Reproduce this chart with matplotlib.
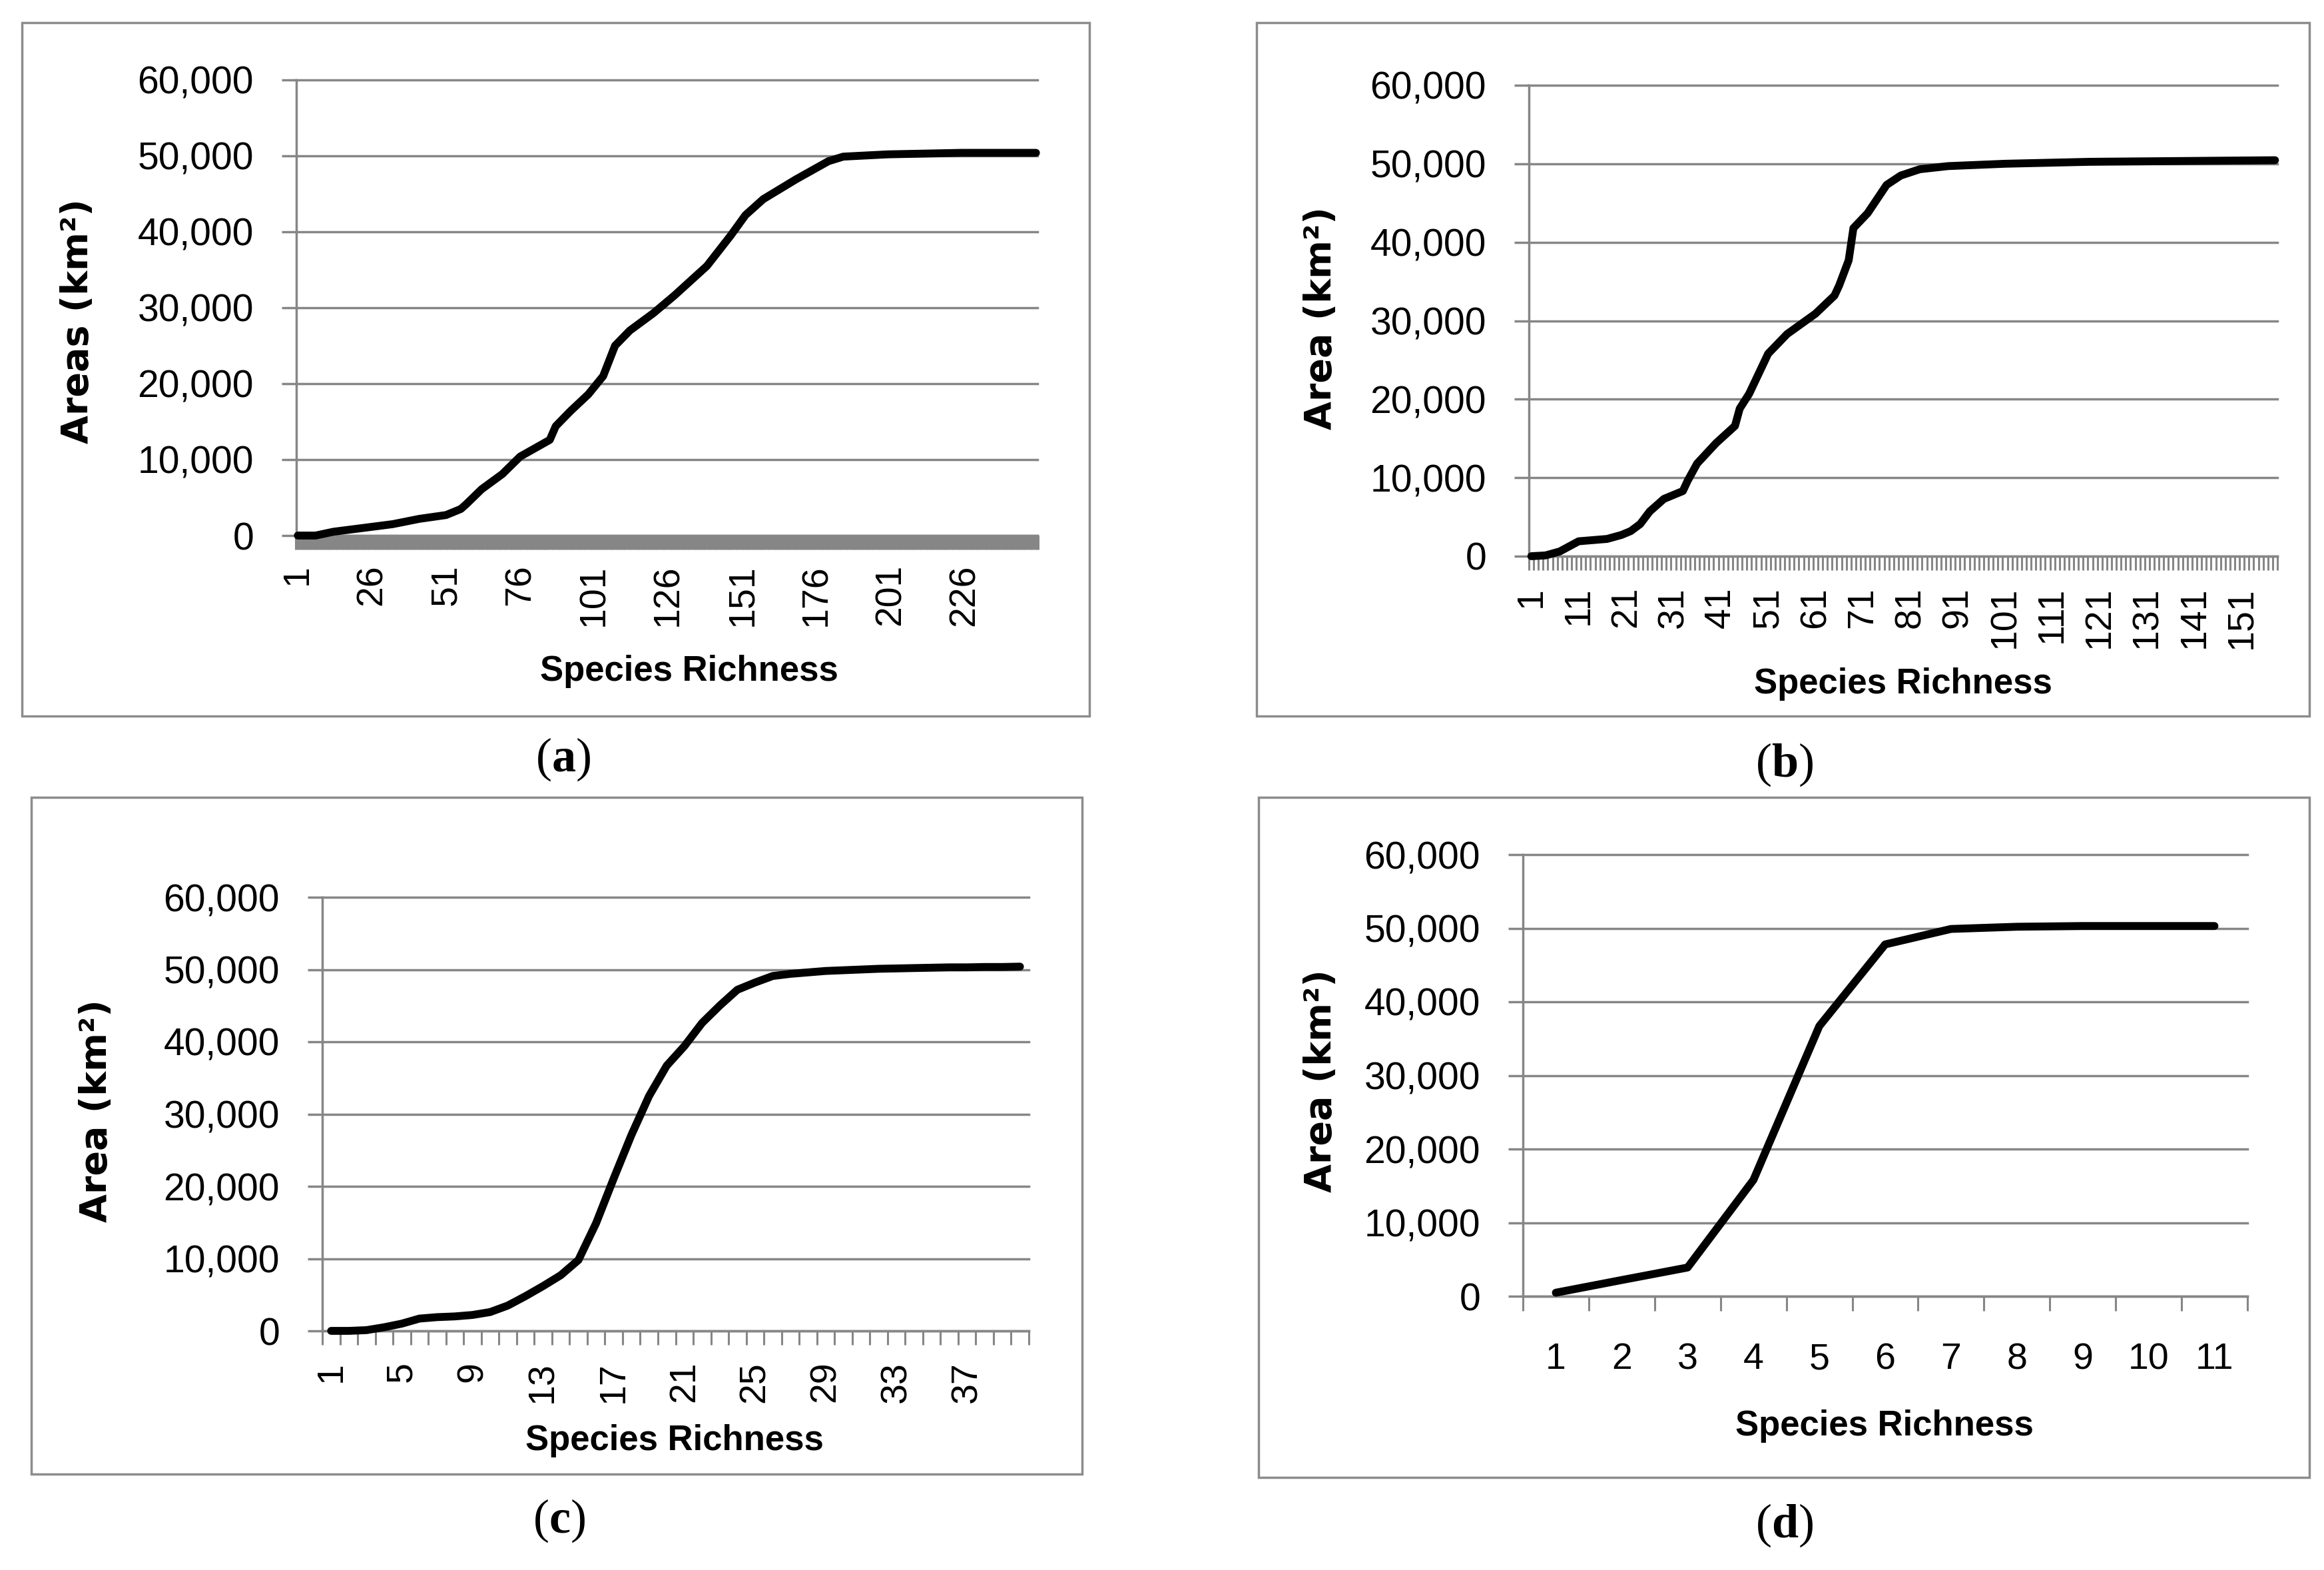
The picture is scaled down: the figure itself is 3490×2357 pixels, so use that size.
import numpy as np
import matplotlib
matplotlib.use("Agg")
import matplotlib.pyplot as plt
from matplotlib.patches import Rectangle
from matplotlib.ticker import FuncFormatter

plt.rcParams['font.family'] = ['Liberation Sans', 'DejaVu Sans']
plt.rcParams['mathtext.fontset'] = 'custom'
plt.rcParams['mathtext.rm'] = 'Liberation Serif'
plt.rcParams['mathtext.bf'] = 'Liberation Serif:bold'

W, H = 3491, 2357

# ---- data ----
# panel (a): 250 richness classes
n_a = 250
richness_a = [1, 7, 13, 23, 33, 42, 51, 56, 58, 63, 70, 76, 86, 88, 93, 99, 104, 108,
              113, 121, 128, 139, 147, 152, 158, 169, 180, 185, 200, 225, 250]
area_a = [0, 0, 500, 1000, 1500, 2200, 2700, 3500, 4200, 6100, 8100, 10400, 12600, 14400,
          16400, 18600, 21000, 25000, 27000, 29300, 31600, 35500, 39500, 42200, 44300,
          46900, 49300, 49900, 50200, 50400, 50400]
labels_a = list(range(1, 227, 25))

# panel (b): 158 richness classes
n_b = 158
richness_b = [1, 4, 7, 11, 17, 20, 22, 24, 26, 29, 33, 34, 36, 40, 44, 45, 47, 51, 55,
              61, 65, 66, 68, 69, 72, 76, 79, 83, 89, 101, 119, 158]
area_b = [0, 100, 600, 1900, 2200, 2700, 3200, 4100, 5700, 7300, 8300, 9600, 11800,
          14400, 16600, 18800, 20700, 25800, 28300, 30900, 33200, 34500, 37700, 41800,
          43700, 47300, 48500, 49300, 49700, 50000, 50250, 50450]
labels_b = list(range(1, 152, 10))

# panel (c): 40 richness classes
n_c = 40
richness_c = list(range(1, 41))
area_c = [0, 0, 100, 500, 1000, 1700, 1900, 2000, 2200, 2600, 3500, 4800, 6200, 7700,
          9800, 14900, 21100, 27100, 32500, 36700, 39400, 42600, 45000, 47200, 48200,
          49100, 49400, 49600, 49800, 49900, 50000, 50100, 50150, 50200, 50250, 50300,
          50300, 50350, 50350, 50400]
labels_c = list(range(1, 38, 4))

# panel (d): 11 richness classes
n_d = 11
richness_d = list(range(1, 12))
area_d = [480, 2200, 3900, 15800, 36700, 47800, 49900, 50200, 50300, 50300, 50300]
labels_d = list(range(1, 12))

grid_gray = '#868686'
frame_gray = '#8c8c8c'

fig = plt.figure(figsize=(W / 100, H / 100), dpi=100)


def rect_px(x0, y0, x1, y1):
    return [x0 / W, 1 - y1 / H, (x1 - x0) / W, (y1 - y0) / H]


def draw_panel(box, frame, n_cat, x, y, labels, rotate, xpad, tickw, tickl):
    # outer frame of the chart
    fr = Rectangle((frame[0] / W, 1 - frame[3] / H), (frame[2] - frame[0]) / W,
                   (frame[3] - frame[1]) / H, transform=fig.transFigure,
                   fill=False, edgecolor=frame_gray, lw=2.5)
    fig.add_artist(fr)

    ax = fig.add_axes(rect_px(*box))
    ax.plot(x, y, color='black', lw=8.5, solid_capstyle='round',
            solid_joinstyle='round', clip_on=False, zorder=5)
    ax.set_xlim(0.5, n_cat + 0.5)
    ax.set_ylim(0, 60000)
    ax.set_yticks(range(0, 60001, 10000))
    ax.yaxis.set_major_formatter(FuncFormatter(lambda v, p: f'{int(v):,}'))
    ax.grid(axis='y', color=grid_gray, lw=2.5)
    for gl in ax.get_ygridlines():
        gl.set_clip_on(False)
    ax.set_axisbelow(True)
    for s in ['top', 'right']:
        ax.spines[s].set_visible(False)
    for s in ['left', 'bottom']:
        ax.spines[s].set_color(grid_gray)
        ax.spines[s].set_linewidth(2.5)

    ax.set_xticks(labels)
    ax.set_xticklabels([str(v) for v in labels])
    ax.set_xticks(np.arange(0.5, n_cat + 1), minor=True)
    ax.tick_params(axis='x', which='major', length=0, pad=xpad, labelsize=40,
                   labelrotation=90 if rotate else 0)
    ax.tick_params(axis='x', which='minor', length=tickl, width=tickw, color=grid_gray)
    ax.tick_params(axis='y', length=16, width=2.5, color=grid_gray, pad=30, labelsize=41)
    return ax


draw_panel((445, 120, 1558, 804), (33, 34, 1636, 1075), n_a, richness_a, area_a,
           labels_a, True, 31, 3.6, 15)
draw_panel((2296, 128, 3420, 835), (1887, 34, 3468, 1075), n_b, richness_b, area_b,
           labels_b, True, 33, 2.2, 15)
draw_panel((484, 1347, 1545, 1998), (47, 1197, 1625, 2213), n_c, richness_c, area_c,
           labels_c, True, 33, 2.2, 15)
draw_panel((2287, 1283, 3375, 1946), (1890, 1197, 3468, 2218), n_d, richness_d, area_d,
           labels_d, False, 50, 2.2, 16)

# axis titles and panel letters
ylab_font = dict(family='DejaVu Sans', fontweight='bold', fontsize=40, rotation=90,
                 ha='center', va='center')
xlab_font = dict(fontweight='bold', fontsize=38, ha='center', va='center')
letter_font = dict(fontsize=52, ha='center', va='center')

fig.text(117 / W, 1 - 482 / H, 'Areas (km²)', **ylab_font)
fig.text(1984 / W, 1 - 478 / H, 'Area (km²)', **ylab_font)
fig.text(145 / W, 1 - 1668 / H, 'Area (km²)', **ylab_font)
fig.text(1984 / W, 1 - 1623 / H, 'Area (km²)', **ylab_font)

fig.text(1035 / W, 1 - 1008 / H, 'Species Richness', **xlab_font)
fig.text(2858 / W, 1 - 1027 / H, 'Species Richness', **xlab_font)
fig.text(1013 / W, 1 - 2163 / H, 'Species Richness', **xlab_font)
fig.text(2830 / W, 1 - 2141 / H, 'Species Richness', **xlab_font)

fig.text(846 / W, 1 - 1140 / H, r'$\mathrm{(}\mathbf{a}\mathrm{)}$', **letter_font)
fig.text(2680 / W, 1 - 1148 / H, r'$\mathrm{(}\mathbf{b}\mathrm{)}$', **letter_font)
fig.text(840 / W, 1 - 2283 / H, r'$\mathrm{(}\mathbf{c}\mathrm{)}$', **letter_font)
fig.text(2680 / W, 1 - 2290 / H, r'$\mathrm{(}\mathbf{d}\mathrm{)}$', **letter_font)

fig.savefig('out.png', dpi=100)
